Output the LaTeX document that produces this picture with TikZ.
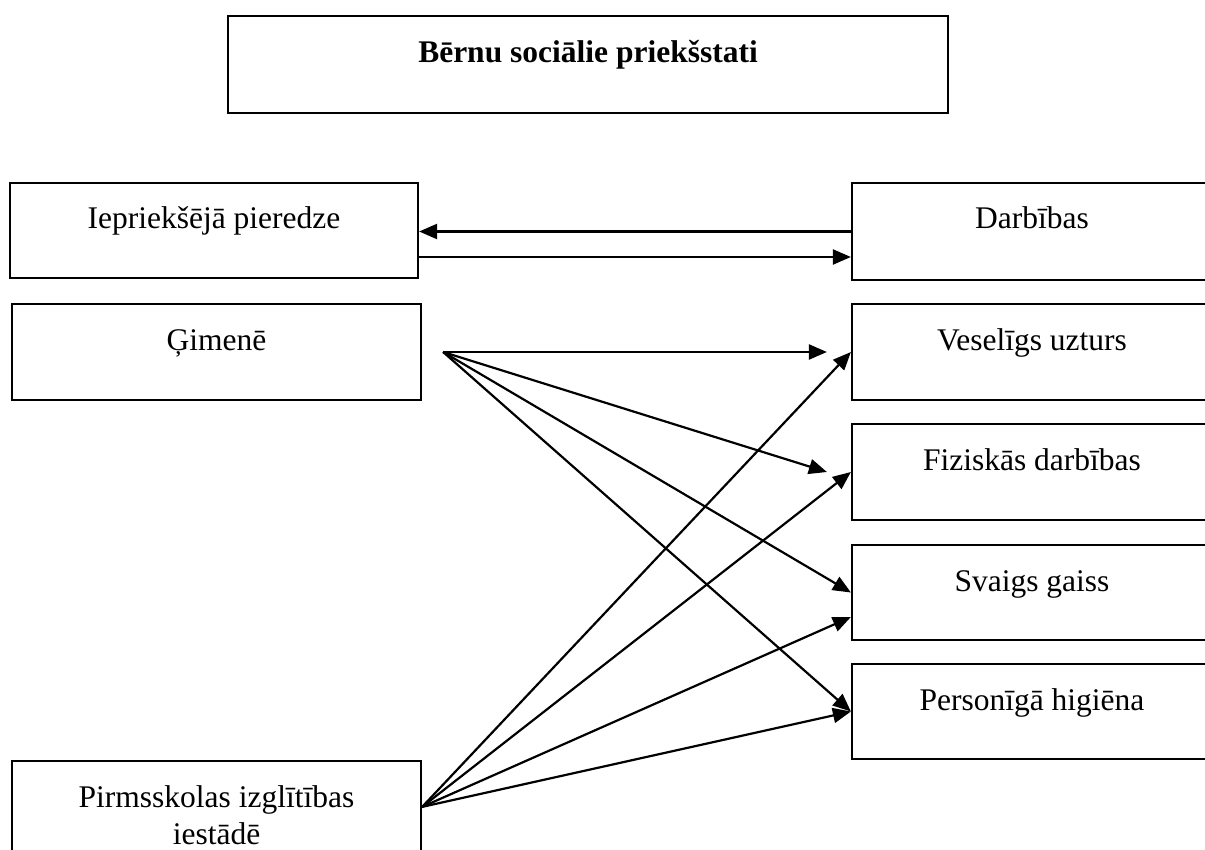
\documentclass[tikz,border=0pt]{standalone}
\usepackage{fontspec}
\setmainfont{Liberation Serif}
\usetikzlibrary{arrows.meta,calc}
\tikzset{
  box/.style={draw, line width=2.2pt, rectangle, inner sep=0pt, align=center,
    font=\fontsize{31.5}{37}\selectfont, text height=46pt},
  arr/.style={line width=2.2pt, -{Triangle[length=18pt,width=15pt]}}
}
\begin{document}
\begin{tikzpicture}[x=1pt,y=-1pt]
\useasboundingbox (0,0) rectangle (1205,850);
\clip (0,0) rectangle (1205,850);
% boxes
\node (title) [box, minimum width=720pt, text height=47pt, text depth=50pt, font=\fontsize{31.5}{37}\selectfont\bfseries] at (588,64.5) {Bērnu sociālie priekšstati};
\node (iep) [box, minimum width=408pt, text depth=49pt] at (214,230.5) {Iepriekšējā pieredze};
\node (gim) [box, minimum width=409pt, text depth=50pt] at (216.5,352) {Ģimenē};
\node (pirm) [box, minimum width=409pt, text height=83pt, text depth=37pt] at (216.5,821) {Pirmsskolas izglītības\\iestādē};
\node (darb) [box, minimum width=360pt, text depth=51pt] at (1032,231.5) {Darbības};
\node (ves) [box, minimum width=360pt, text depth=50pt] at (1032,352) {Veselīgs uzturs};
\node (fiz) [box, minimum width=360pt, text depth=50pt] at (1032,472) {Fiziskās darbības};
\node (sva) [box, minimum width=360pt, text depth=49pt] at (1032,592.5) {Svaigs gaiss};
\node (per) [box, minimum width=360pt, text depth=49pt] at (1032,711.5) {Personīgā higiēna};
% start points
\coordinate (gs) at ([xshift=21pt]gim.east);
\coordinate (ps) at ([yshift=-47pt]pirm.north east);
% arrows
\draw[arr] (darb.west) -- (darb.west -| iep.east);
\draw[arr] ([yshift=-26.5pt]iep.east) -- ([yshift=-26.5pt]iep.east -| darb.west);
\draw[arr] (gs) -- ([xshift=-24pt]ves.west);
\draw[arr] (gs) -- ([xshift=-24pt]fiz.west);
\draw[arr] (gs) -- (sva.west);
\draw[arr] (gs) -- (per.west);
\draw[arr] (ps) -- (ves.west);
\draw[arr] (ps) -- (fiz.west);
\draw[arr] (ps) -- ([yshift=-24.5pt]sva.west);
\draw[arr] (ps) -- (per.west);
\end{tikzpicture}
\end{document}
